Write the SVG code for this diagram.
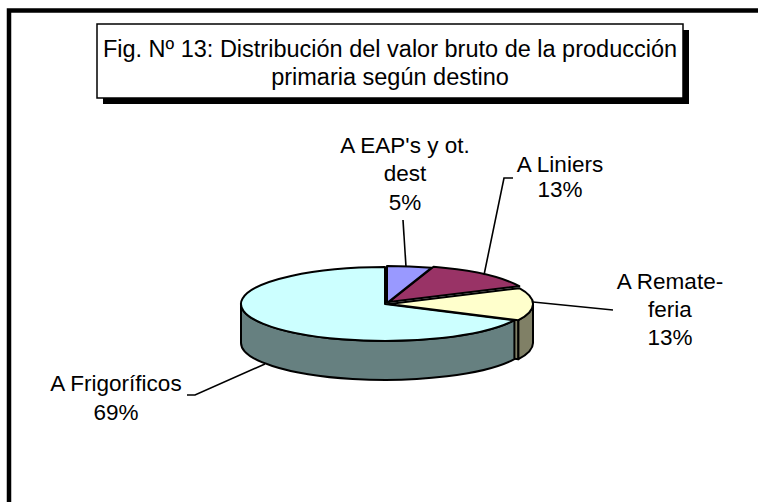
<svg xmlns="http://www.w3.org/2000/svg" width="758" height="502" viewBox="0 0 758 502">
<style>
text{font-family:"Liberation Sans",Arial,sans-serif;fill:#000}
.t{font-size:23.5px;text-anchor:middle}
.l{font-size:22.5px;text-anchor:middle}
.e{stroke:#000;stroke-width:2;stroke-linejoin:round}
.ld{fill:none;stroke:#000;stroke-width:1.6}
</style>
<rect width="758" height="502" fill="#fff"/>
<path d="M9,510 L9,10.5 L770,10.5" fill="none" stroke="#000" stroke-width="4.5"/>
<g id="title">
<rect x="103" y="30" width="586" height="74" fill="#000"/>
<rect x="97" y="24" width="586" height="74" fill="#fff" stroke="#000" stroke-width="1.5"/>
<text class="t" x="390" y="57">Fig. Nº 13: Distribución del valor bruto de la producción</text>
<text class="t" x="390" y="85">primaria según destino</text>
</g>
<g id="pie">
<path id="yellow-face" class="e" fill="#808066" d="M389,304 L518.4,320.2 L518.4,359.2 L389,343 Z"/>
<path id="yellow-wall" class="e" fill="#808066" d="M533,304 A144,37 0 0 1 518.4,320.2 L518.4,359.2 A144,37 0 0 0 533,343 Z"/>
<path id="cyan-wall" class="e" fill="#668080" d="M514.4,320.2 A144,37 0 0 1 241,304 L241,343 A144,37 0 0 0 514.4,359.2 Z"/>
<path id="cyan-top" class="e" fill="#CCFFFF" d="M385,304 L514.4,320.2 A144,37 0 1 1 385,267 Z"/>
<path id="yellow-top" class="e" fill="#FFFFCC" d="M389,304 L519.3,288.2 A144,37 0 0 1 518.4,320.2 Z"/>
<path id="maroon-top" class="e" fill="#993366" d="M389,302 L433.5,266.8 A144,37 0 0 1 519.3,286.2 Z"/>
<path id="blue-top" class="e" fill="#9999FF" d="M387,303 L387,266 A144,37 0 0 1 431.5,267.8 Z"/>
</g>
<g id="connectors">
<path class="ld" d="M403,220 L406,267"/>
<path class="ld" d="M513,178 L504,178 L484,275"/>
<path class="ld" d="M533,302 L613,310"/>
<path class="ld" d="M187,395 L195,395 L265,364"/>
</g>
<g id="label-eap">
<text class="l" x="405" y="153">A EAP's y ot.</text>
<text class="l" x="405" y="181">dest</text>
<text class="l" x="405" y="210">5%</text>
</g>
<g id="label-liniers">
<text class="l" x="560" y="172">A Liniers</text>
<text class="l" x="560" y="197">13%</text>
</g>
<g id="label-remate">
<text class="l" x="670" y="289">A Remate-</text>
<text class="l" x="670" y="317">feria</text>
<text class="l" x="670" y="345">13%</text>
</g>
<g id="label-frigorificos">
<text class="l" x="116" y="391">A Frigoríficos</text>
<text class="l" x="116" y="420">69%</text>
</g>
</svg>
